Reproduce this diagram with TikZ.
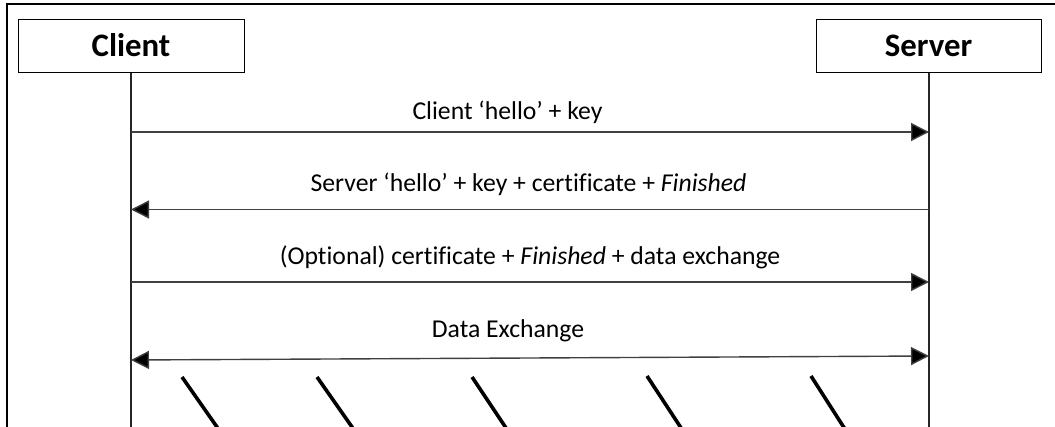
\documentclass[tikz,border=0pt]{standalone}
\usepackage{fontspec}
\setmainfont{Carlito}[Ligatures=NoCommon]
\usetikzlibrary{arrows.meta}

\tikzset{
  actor/.style={draw=black, line width=1pt, fill=white, minimum width=#1, minimum height=53pt,
    inner sep=0pt, text height=21pt, text depth=0pt,
    font=\fontsize{32.8}{39}\selectfont\bfseries},
  lifeline/.style={line width=1.1pt, draw=black!85},
  msg/.style={line width=1.4pt, draw=black!75,
    -{Triangle[length=18pt,width=18pt,fill=black]}},
  msgboth/.style={line width=1.4pt, draw=black!75,
    {Triangle[length=18pt,width=18pt,fill=black]}-{Triangle[length=18pt,width=18pt,fill=black]}},
  lbl/.style={anchor=base, inner sep=0pt, font=\fontsize{25.7}{30}\selectfont},
  slash/.style={line width=3.6pt, draw=black, line cap=butt},
  frame/.style={line width=1.5pt, draw=black}
}

\begin{document}
\begin{tikzpicture}[x=1pt, y=-1pt]
  \useasboundingbox (0,0) rectangle (1055,427);
  \clip (0,0) rectangle (1055,427);
  \fill[white] (0,0) rectangle (1055,427);

  % enclosing frame (left and top edges)
  \draw[frame] (7,440) -- (7,4) -- (1070,4);

  % participants
  \node[actor=226pt] (client) at (131,46.5) {Client};
  \node[actor=225pt] (server) at (928.5,46.5) {Server};

  % lifelines
  \coordinate (cend) at (131,440);
  \coordinate (send) at (929,440);
  \draw[lifeline] (client.south) -- (cend);
  \draw[lifeline] (929,73) -- (send);

  % message endpoints on the lifelines
  \coordinate (c1) at (131,132);   \coordinate (s1) at (929,132);
  \coordinate (c2) at (131,209.5); \coordinate (s2) at (929,209.5);
  \coordinate (c3) at (131,282);   \coordinate (s3) at (929,282);
  \coordinate (c4) at (131,360);   \coordinate (s4) at (929,356);

  % messages
  \draw[msg] (c1) -- (s1);
  \draw[msg] (s2) -- (c2);
  \draw[msg] (c3) -- (s3);
  \draw[msgboth] (c4) -- (s4);

  % labels
  \node[lbl] (l1) at (507.5,119.3) {Client ‘hello’ + key};
  \node[lbl] (l2) at (528.5,191.7) {Server ‘hello’ + key + certificate + \textit{Finished}};
  \node[lbl] (l3) at (530,265) {(Optional) certificate + \textit{Finished} + data exchange};
  \node[lbl] (l4) at (508,338) {Data Exchange};

  % continuation strokes
  \draw[slash] (182,377) -- (224,437);
  \draw[slash] (317,377) -- (359,437);
  \draw[slash] (472,377) -- (512,437);
  \draw[slash] (647,376) -- (687,437);
  \draw[slash] (811,376) -- (850,437);
\end{tikzpicture}
\end{document}
